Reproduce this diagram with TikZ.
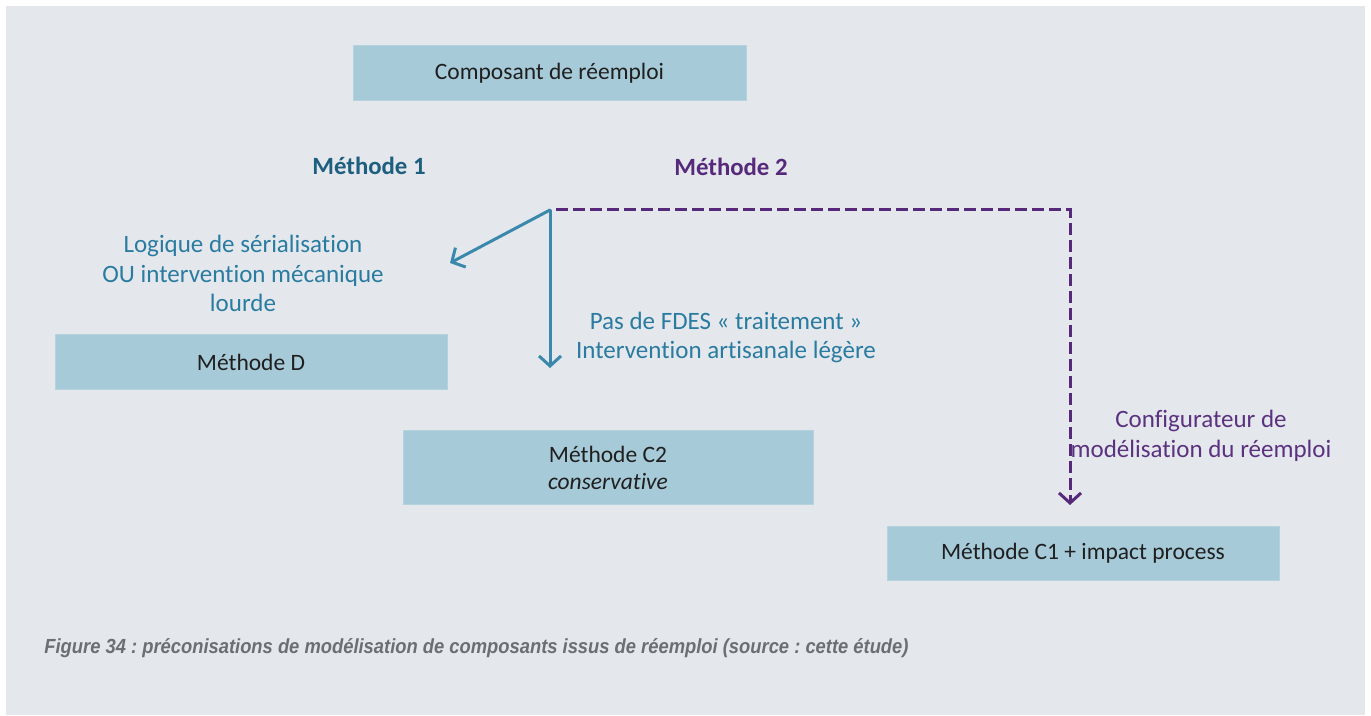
\documentclass[tikz,border=0pt]{standalone}
\usepackage{fontspec}
\setmainfont[Ligatures=NoCommon]{Carlito}
\newfontfamily\capfont[FakeStretch=0.9]{Liberation Sans}
\usetikzlibrary{arrows.meta}
\definecolor{bg}{HTML}{E4E8ED}
\definecolor{boxfill}{HTML}{A6CAD8}
\definecolor{boxedge}{HTML}{B4D3DF}
\definecolor{bluetxt}{HTML}{2A7BA0}
\definecolor{bluearr}{HTML}{3A89AC}
\definecolor{darkteal}{HTML}{1E5E7E}
\definecolor{purp}{HTML}{56297A}
\definecolor{purptxt}{HTML}{5B3280}
\definecolor{captxt}{HTML}{6B6E72}
\tikzset{
  mbox/.style={fill=boxfill, draw=boxedge, line width=0.5pt, inner sep=0pt, text=black!88, font=\fontsize{11.75}{13.5}\selectfont, align=center},
  bluelab/.style={text=bluetxt, font=\fontsize{12.5}{14.8}\selectfont, align=center, inner sep=0pt},
  purplab/.style={text=purptxt, font=\fontsize{12.5}{14.8}\selectfont, align=center, inner sep=0pt},
  barr/.style={draw=bluearr, line width=1.5pt, -{Straight Barb[length=5pt,width=11pt,line width=1.5pt]}},
  parr/.style={draw=purp, line width=1.5pt, dash pattern=on 6pt off 2.5pt, -{Straight Barb[length=5pt,width=11pt,line width=1.5pt]}},
}
\frenchspacing
\begin{document}
\frenchspacing
\begin{tikzpicture}[x=0.5pt,y=-0.5pt]
\useasboundingbox (0,0) rectangle (1371,716);
\fill[white] (0,0) rectangle (1371,716);
\fill[bg] (6,6) rectangle (1365,715);

\node[mbox, minimum width=196.5pt, minimum height=27.5pt] (comp) at (549.5,73.5) {Composant de réemploi};
\node[mbox, minimum width=196pt, minimum height=27.5pt] (methD) at (251,362.5) {Méthode D};
\node[mbox, minimum width=205pt, minimum height=37pt] (methC2) at (608,468) {Méthode C2\\\itshape conservative};
\node[mbox, minimum width=196pt, minimum height=26.5pt] (methC1) at (1083,553.5) {Méthode C1 + impact process};

\node[text=darkteal, font=\fontsize{12.4}{14}\selectfont\bfseries, inner sep=0pt] (m1) at (369,166) {Méthode 1};
\node[text=purp, font=\fontsize{12.4}{14}\selectfont\bfseries, inner sep=0pt] (m2) at (731,167) {Méthode 2};

\node[bluelab] (logi) at (243,273.5) {Logique de sérialisation\\OU intervention mécanique\\lourde};
\node[bluelab] (fdes) at (726,337.5) {Pas de FDES « traitement »\\Intervention artisanale légère};
\node[purplab] (conf) at (1201,436) {Configurateur de\\modélisation du réemploi};

\coordinate (o) at (550,210);
\coordinate (oa) at (556,210);
\coordinate (corner) at (1070,210);
\coordinate (endD) at (450,263);
\coordinate (endC2) at (550,368);
\coordinate (endC1) at (1070,505);

\draw[barr, line cap=round] (o) -- (endD);
\draw[barr] (o) -- (endC2);
\draw[parr] (oa) -- (corner) -- (endC1);

\node[anchor=west, text=captxt, font=\capfont\fontsize{10.2}{12}\selectfont\bfseries\itshape, inner sep=0pt] (cap) at (44,648) {Figure 34 : préconisations de modélisation de composants issus de réemploi (source : cette étude)};
\end{tikzpicture}
\end{document}
